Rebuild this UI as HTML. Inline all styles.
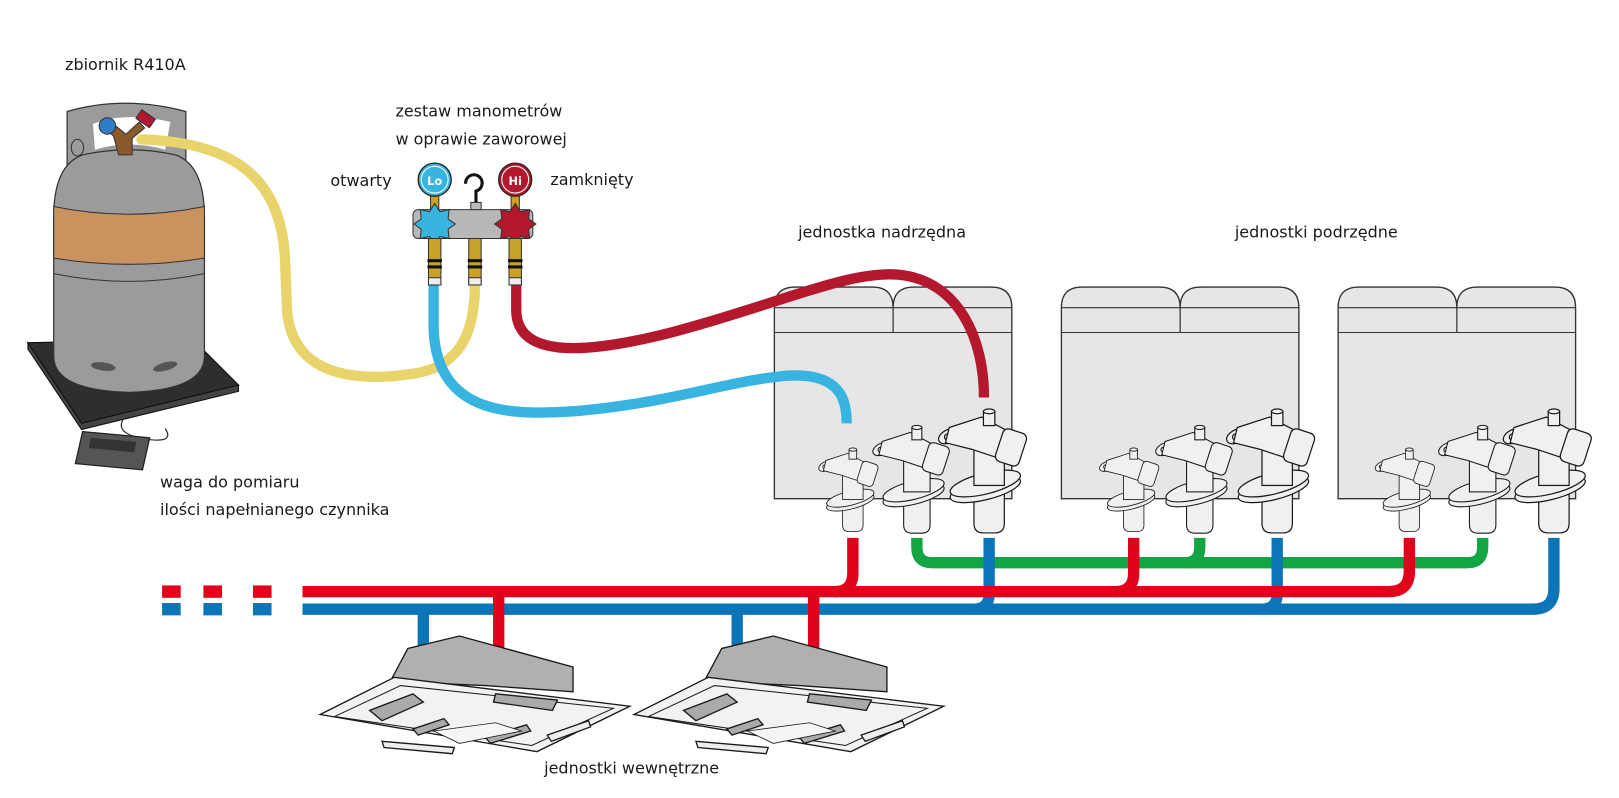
<!DOCTYPE html>
<html><head><meta charset="utf-8">
<style>
html,body{margin:0;padding:0;background:#fff;}
svg{display:block;}
text{font-family:"DejaVu Sans","Liberation Sans",sans-serif;font-size:15.5px;fill:#1a1a1a;}
</style></head>
<body>
<svg width="1619" height="798" viewBox="0 0 1619 798" xmlns="http://www.w3.org/2000/svg">
<defs>
<g id="valve" stroke="#1a1a1a" stroke-width="1.3" fill="#f0f0f0">
  <path d="M-16,0 V38 Q-16,48 -6,48 H6 Q16,48 16,38 V0 Z"/>
  <ellipse cx="-4" cy="2" rx="38" ry="11" transform="rotate(-14 -4 2)"/>
  <ellipse cx="-4" cy="-4" rx="38" ry="11" transform="rotate(-14 -4 -4)"/>
  <rect x="-16" y="-50" width="32" height="48"/>
  <ellipse cx="-42" cy="-54" rx="12" ry="7" transform="rotate(-25 -42 -54)"/>
  <circle cx="-44" cy="-53" r="3" fill="none"/>
  <path d="M-42,-63 L-8,-74 L26,-56 L18,-28 L-18,-40 L-46,-47 Z"/>
  <rect x="10" y="-60" width="26" height="36" rx="6" transform="rotate(18 23 -42)"/>
  <rect x="-6" y="-80" width="12" height="15"/>
  <ellipse cx="0" cy="-80" rx="6" ry="2.5"/>
</g>
<g id="outdoor">
  <path d="M0,205 V20 Q0,0 20,0 H95 Q115,0 115,20 Q115,0 135,0 H210 Q230,0 230,20 V205 Z" fill="#e6e6e6" stroke="#333" stroke-width="1.3"/>
  <line x1="0" y1="20" x2="230" y2="20" stroke="#333" stroke-width="1.2"/>
  <line x1="0" y1="44" x2="230" y2="44" stroke="#333" stroke-width="1"/>
  <line x1="115" y1="20" x2="115" y2="44" stroke="#333" stroke-width="1.2"/>
</g>
<g id="indoor" stroke="#1a1a1a" stroke-width="1.3">
  <path d="M68,32 L85,0 L135,-12 L245,18 L245,42 L160,36 Z" fill="#b0b0b0"/>
  <path d="M0,64 L72,28 L300,56 L210,100 Z" fill="#f2f2f2"/>
  <path d="M14,66 L78,36 L284,58 L205,94 Z" fill="#f2f2f2" stroke-width="1"/>
  <path d="M48,60 L90,44 L100,52 L60,70 Z" fill="#aaa"/>
  <path d="M170,44 L230,50 L225,60 L168,52 Z" fill="#aaa"/>
  <path d="M90,78 L120,68 L125,74 L95,84 Z" fill="#aaa"/>
  <path d="M160,86 L200,74 L204,80 L165,92 Z" fill="#aaa"/>
  <path d="M110,80 L170,72 L195,80 L135,92 Z" fill="#f5f5f5" stroke-width="0.8"/>
  <path d="M60,90 L130,96 L128,102 L62,96 Z" fill="#eee"/>
  <path d="M220,84 L260,70 L262,76 L224,90 Z" fill="#eee"/>
</g>
<g id="star">
  <path d="M0,-20 L5,-12 L14,-14 L13,-5 L20,0 L13,5 L14,14 L5,12 L0,20 L-5,12 L-14,14 L-13,5 L-20,0 L-13,-5 L-14,-14 L-5,-12 Z" stroke="#333" stroke-width="1"/>
</g>
<g id="fit">
  <rect x="-6" y="0" width="12" height="45" fill="#c9a227" stroke="#333" stroke-width="1"/>
  <rect x="-7" y="20" width="14" height="3" fill="#111"/>
  <rect x="-7" y="26" width="14" height="3" fill="#111"/>
  <rect x="-6" y="38" width="12" height="7" fill="#eee" stroke="#333" stroke-width="1"/>
</g>
</defs>

<g transform="scale(1.0325)">
<text x="63" y="68">zbiornik R410A</text>
<text x="383" y="113">zestaw manometrów</text>
<text x="383" y="140">w oprawie zaworowej</text>
<text x="320" y="180">otwarty</text>
<text x="533" y="179">zamknięty</text>
<text x="773" y="230">jednostka nadrzędna</text>
<text x="1196" y="230">jednostki podrzędne</text>
<text x="155" y="472">waga do pomiaru</text>
<text x="155" y="499">ilości napełnianego czynnika</text>
<text x="527" y="749">jednostki wewnętrzne</text>

<!-- scale -->
<polygon points="27,332 187,329 231,373 79,410" fill="#2e2e2e" stroke="#111" stroke-width="1.2"/>
<polygon points="79,410 231,373 231,379 79,416 27,338 27,332" fill="#444" stroke="#111" stroke-width="1"/>
<path d="M120,405 Q110,420 140,425 Q170,430 160,415" fill="none" stroke="#333" stroke-width="1.2"/>
<polygon points="80,418 145,424 138,455 73,449" fill="#555" stroke="#222" stroke-width="1.2"/>
<polygon points="88,424 132,428 130,438 86,434" fill="#333"/>
<!-- tank -->
<path d="M65,160 V108 Q120,92 180,108 V165 Z" fill="#9b9b9b" stroke="#333" stroke-width="1.2"/>
<path d="M90,120 Q120,108 165,118 L160,145 Q125,135 92,145 Z" fill="#fff"/>
<path d="M52,210 Q52,160 80,150 Q125,140 170,150 Q198,160 198,210 L198,345 Q198,378 125,380 Q52,378 52,345 Z" fill="#9b9b9b" stroke="#333" stroke-width="1.2"/>
<path d="M52,200 Q125,215 198,200 L198,250 Q125,262 52,250 Z" fill="#c9925f" stroke="#333" stroke-width="1"/>
<path d="M52,265 Q125,280 198,265" fill="none" stroke="#333" stroke-width="1"/>
<ellipse cx="100" cy="355" rx="12" ry="4" fill="#555" transform="rotate(8 100 355)"/>
<ellipse cx="160" cy="355" rx="12" ry="4" fill="#555" transform="rotate(-15 160 355)"/>
<ellipse cx="75" cy="143" rx="6" ry="8" fill="none" stroke="#333"/>
<path d="M115,150 L110,132 L100,122 L106,117 L122,130 L135,118 L140,124 L128,134 L128,150 Z" fill="#8a5a2b" stroke="#333" stroke-width="1"/>
<circle cx="104" cy="122" r="8" fill="#2f7bc4" stroke="#333"/>
<rect x="133" y="110" width="16" height="10" fill="#b3182e" stroke="#333" transform="rotate(35 141 115)"/>

<!-- outdoor units -->
<use href="#outdoor" x="750" y="278"/>
<use href="#outdoor" x="1028" y="278"/>
<use href="#outdoor" x="1296" y="278"/>

<!-- hoses -->
<path d="M137,135 C230,138 272,175 276,250 L278,300 C283,372 360,368 400,362 C440,356 460,330 460,275" fill="none" stroke="#e8d46b" stroke-width="10" stroke-linecap="round"/>
<path d="M420,275 L420,320 C424,405 500,402 560,398 C650,390 700,370 760,364 C815,360 820,388 820,410" fill="none" stroke="#38b4e0" stroke-width="10"/>
<path d="M500,275 L500,300 C500,345 560,345 650,322 C750,296 820,262 870,266 C930,272 953,330 953,385" fill="none" stroke="#b3182e" stroke-width="10"/>

<!-- manifold -->
<rect x="400" y="203" width="116" height="28" rx="5" fill="#b8b8b8" stroke="#333" stroke-width="1"/>
<rect x="456" y="196" width="10" height="7" fill="#bbb" stroke="#333" stroke-width="1"/>
<path d="M461,196 V185 A8,8 0 1 0 451,178" fill="none" stroke="#111" stroke-width="3"/>
<rect x="417" y="185" width="8" height="20" fill="#c9a227" stroke="#333" stroke-width="1"/>
<rect x="495" y="185" width="8" height="20" fill="#c9a227" stroke="#333" stroke-width="1"/>
<circle cx="421" cy="174" r="16" fill="#38b4e0" stroke="#222" stroke-width="1.3"/>
<circle cx="421" cy="174" r="13" fill="none" stroke="#fff" stroke-width="1"/>
<circle cx="499" cy="174" r="16" fill="#b3182e" stroke="#222" stroke-width="1.3"/>
<circle cx="499" cy="174" r="13" fill="none" stroke="#fff" stroke-width="1"/>
<text x="421" y="179" text-anchor="middle" style="font-size:11px;font-weight:bold;fill:#fff">Lo</text>
<text x="499" y="179" text-anchor="middle" style="font-size:11px;font-weight:bold;fill:#fff">Hi</text>
<use href="#star" x="421" y="217" fill="#38b4e0"/>
<use href="#star" x="499" y="217" fill="#b3182e"/>
<use href="#fit" x="421" y="231"/>
<use href="#fit" x="460" y="231"/>
<use href="#fit" x="499" y="231"/>

<!-- valves -->
<g transform="translate(826,485) scale(0.62)"><use href="#valve"/></g>
<g transform="translate(888,478) scale(0.8)"><use href="#valve"/></g>
<g transform="translate(958,472) scale(0.92)"><use href="#valve"/></g>
<g transform="translate(1098,485) scale(0.62)"><use href="#valve"/></g>
<g transform="translate(1162,478) scale(0.8)"><use href="#valve"/></g>
<g transform="translate(1237,472) scale(0.92)"><use href="#valve"/></g>
<g transform="translate(1365,485) scale(0.62)"><use href="#valve"/></g>
<g transform="translate(1436,478) scale(0.8)"><use href="#valve"/></g>
<g transform="translate(1505,472) scale(0.92)"><use href="#valve"/></g>

<!-- piping -->
<g fill="none" stroke-width="11">
<path d="M888,521 V530 Q888,545 903,545 H1421 Q1436,545 1436,530 V521" stroke="#13a544"/>
<path d="M1162,521 V530 Q1162,545 1147,545" stroke="#13a544"/>
<path d="M293,590 H1485 Q1505,590 1505,570 V521" stroke="#0b75b8"/>
<path d="M958,521 V575 Q958,590 943,590" stroke="#0b75b8"/>
<path d="M1237,521 V575 Q1237,590 1222,590" stroke="#0b75b8"/>
<path d="M410,590 V642" stroke="#0b75b8"/>
<path d="M714,590 V642" stroke="#0b75b8"/>
<path d="M293,573 H1345 Q1365,573 1365,553 V521" stroke="#e2001a"/>
<path d="M826,521 V555 Q826,573 808,573" stroke="#e2001a"/>
<path d="M1098,521 V555 Q1098,573 1080,573" stroke="#e2001a"/>
<path d="M483,573 V642" stroke="#e2001a"/>
<path d="M788,573 V642" stroke="#e2001a"/>
</g>
<g>
<rect x="157" y="567" width="18" height="12" fill="#e2001a"/>
<rect x="197" y="567" width="18" height="12" fill="#e2001a"/>
<rect x="245" y="567" width="18" height="12" fill="#e2001a"/>
<rect x="157" y="584" width="18" height="12" fill="#0b75b8"/>
<rect x="197" y="584" width="18" height="12" fill="#0b75b8"/>
<rect x="245" y="584" width="18" height="12" fill="#0b75b8"/>
</g>

<use href="#indoor" x="310" y="628"/>
<use href="#indoor" x="614" y="628"/>
</g>
</svg>
</body></html>
